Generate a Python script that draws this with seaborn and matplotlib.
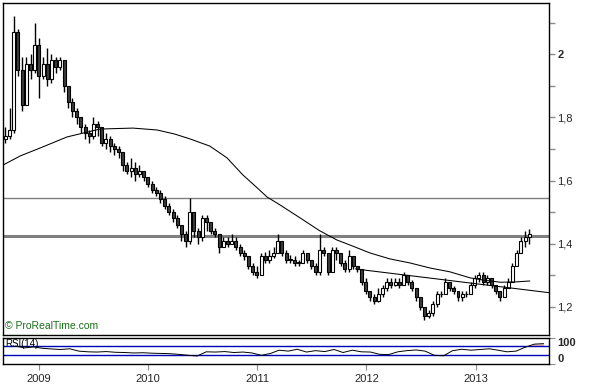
import numpy as np
import pandas as pd
import matplotlib
matplotlib.use("Agg")
import matplotlib.pyplot as plt
import seaborn as sns

# ---------------- data ----------------
bar_start = "2008-09-12"          # bi-weekly bars
close = [1.74, 1.76, 2.07, 1.95, 1.84, 1.97, 1.95, 2.03, 1.93, 1.97,
         1.92, 1.98, 1.96, 1.98, 1.90, 1.85, 1.82, 1.80, 1.77, 1.75,
         1.74, 1.78, 1.77, 1.72, 1.73, 1.71, 1.70, 1.69, 1.65, 1.63,
         1.64, 1.62, 1.63, 1.61, 1.59, 1.57, 1.56, 1.54, 1.52, 1.50,
         1.48, 1.46, 1.43, 1.41, 1.50, 1.44, 1.42, 1.48, 1.47, 1.44,
         1.43, 1.39, 1.41, 1.40, 1.41, 1.39, 1.37, 1.36, 1.33, 1.31,
         1.30, 1.36, 1.35, 1.36, 1.37, 1.41, 1.37, 1.35, 1.35, 1.34,
         1.34, 1.37, 1.35, 1.33, 1.31, 1.38, 1.37, 1.31, 1.38, 1.37,
         1.34, 1.32, 1.36, 1.33, 1.32, 1.28, 1.25, 1.23, 1.22, 1.24,
         1.26, 1.28, 1.27, 1.28, 1.27, 1.30, 1.28, 1.26, 1.23, 1.20,
         1.17, 1.18, 1.21, 1.24, 1.24, 1.28, 1.26, 1.25, 1.23, 1.24,
         1.24, 1.27, 1.29, 1.30, 1.28, 1.29, 1.27, 1.25, 1.23, 1.26,
         1.28, 1.33, 1.37, 1.41, 1.42, 1.43]
high = [1.77, 1.83, 2.12, 2.08, 1.99, 1.99, 2.00, 2.10, 2.05, 1.99,
        2.02, 2.00, 1.99, 1.99, 1.98, 1.90, 1.86, 1.83, 1.80, 1.78,
        1.76, 1.80, 1.79, 1.77, 1.75, 1.74, 1.72, 1.71, 1.69, 1.66,
        1.67, 1.66, 1.65, 1.63, 1.61, 1.60, 1.58, 1.57, 1.55, 1.53,
        1.51, 1.49, 1.46, 1.44, 1.545, 1.50, 1.45, 1.49, 1.49, 1.47,
        1.45, 1.43, 1.42, 1.42, 1.43, 1.42, 1.40, 1.38, 1.36, 1.34,
        1.33, 1.37, 1.375, 1.38, 1.39, 1.43, 1.40, 1.38, 1.365, 1.36,
        1.35, 1.38, 1.37, 1.35, 1.34, 1.43, 1.39, 1.36, 1.39, 1.39,
        1.37, 1.35, 1.38, 1.36, 1.33, 1.32, 1.29, 1.25, 1.24, 1.26,
        1.27, 1.29, 1.29, 1.29, 1.29, 1.31, 1.30, 1.285, 1.26, 1.23,
        1.20, 1.19, 1.22, 1.25, 1.25, 1.29, 1.28, 1.265, 1.25, 1.25,
        1.25, 1.28, 1.30, 1.31, 1.31, 1.30, 1.29, 1.27, 1.25, 1.27,
        1.29, 1.34, 1.38, 1.42, 1.44, 1.445]
low = [1.72, 1.73, 1.75, 1.93, 1.82, 1.84, 1.92, 1.94, 1.86, 1.92,
       1.90, 1.91, 1.94, 1.95, 1.88, 1.83, 1.80, 1.78, 1.75, 1.73,
       1.72, 1.73, 1.74, 1.71, 1.70, 1.69, 1.68, 1.67, 1.63, 1.62,
       1.61, 1.60, 1.61, 1.60, 1.58, 1.56, 1.55, 1.53, 1.51, 1.49,
       1.47, 1.45, 1.41, 1.39, 1.40, 1.42, 1.40, 1.41, 1.44, 1.43,
       1.42, 1.37, 1.39, 1.39, 1.40, 1.38, 1.36, 1.35, 1.32, 1.30,
       1.29, 1.30, 1.34, 1.34, 1.355, 1.37, 1.36, 1.34, 1.34, 1.33,
       1.33, 1.34, 1.34, 1.32, 1.30, 1.30, 1.36, 1.30, 1.31, 1.35,
       1.33, 1.31, 1.31, 1.32, 1.31, 1.27, 1.24, 1.22, 1.21, 1.215,
       1.23, 1.25, 1.26, 1.265, 1.26, 1.27, 1.27, 1.25, 1.22, 1.19,
       1.16, 1.165, 1.17, 1.20, 1.23, 1.24, 1.25, 1.24, 1.22, 1.22,
       1.23, 1.24, 1.26, 1.28, 1.27, 1.27, 1.26, 1.24, 1.22, 1.23,
       1.26, 1.28, 1.33, 1.37, 1.39, 1.40]
first_open = 1.73

ma_dates = ["2008-09-04", "2008-11-01", "2009-01-06", "2009-04-06", "2009-07-25",
            "2009-11-12", "2010-02-01", "2010-04-01", "2010-05-21", "2010-07-27",
            "2010-09-22", "2010-11-14", "2011-01-01", "2011-02-03", "2011-03-18",
            "2011-05-24", "2011-07-29", "2011-09-24", "2011-11-23", "2012-01-12",
            "2012-03-19", "2012-05-26", "2012-08-01", "2012-10-06", "2012-12-12",
            "2013-01-25", "2013-03-24", "2013-05-12", "2013-06-30"]
ma_values = [1.649, 1.678, 1.703, 1.738, 1.763, 1.766, 1.760, 1.747, 1.732, 1.709,
             1.672, 1.618, 1.577, 1.548, 1.523, 1.482, 1.441, 1.412, 1.390, 1.371,
             1.352, 1.339, 1.323, 1.311, 1.292, 1.285, 1.278, 1.279, 1.282]

trend_dates = ["2011-11-26", "2013-09-02"]
trend_values = [1.320, 1.245]

level_thin = 1.545
level_thick = 1.425

rsi_start = "2008-09-15"           # monthly RSI readings
rsi_values = [70, 62, 66, 60, 57, 55, 58, 48, 45, 44,
              46, 43, 42, 40, 41, 39, 38, 37, 34, 30,
              27, 45, 44, 46, 42, 44, 40, 30, 38, 52,
              48, 56, 44, 50, 46, 55, 42, 52, 45, 44,
              34, 33, 45, 50, 53, 48, 30, 28, 50, 56,
              52, 55, 58, 52, 45, 48, 65, 78, 80]
rsi_hi, rsi_lo = 70, 30

years = ["2009", "2010", "2011", "2012", "2013"]
price_ticks = [1.2, 1.4, 1.6, 1.8, 2.0]
price_labels = ["1,2", "1,4", "1,6", "1,8", "2"]
price_minor = [1.3, 1.5, 1.7, 1.9, 2.1]

# ---------------- figure ----------------
sns.set_style("white")
plt.rcParams["font.family"] = ["Liberation Sans", "DejaVu Sans"]

fig = plt.figure(figsize=(6, 3.84), dpi=100)
W, H = 600, 384
ax = fig.add_axes([3 / W, 1 - 335 / H, 546 / W, 332 / H])
ax2 = fig.add_axes([3 / W, 1 - 364 / H, 546 / W, 26 / H], sharex=ax)

df = pd.DataFrame({
    "date": pd.date_range(bar_start, periods=len(close), freq="14D"),
    "close": close, "high": high, "low": low,
})
df["open"] = [first_open] + close[:-1]
up = df["close"] >= df["open"]
body_lo = np.minimum(df["open"], df["close"])
body_h = np.maximum(np.abs(df["close"] - df["open"]), 0.002)

# horizontal levels
ax.axhline(level_thin, color="#7f7f7f", lw=1.0, zorder=1)
ax.axhline(level_thick, color="#7f7f7f", lw=2.2, zorder=1)

# candles
ax.vlines(df["date"], df["low"], df["high"], color="black", lw=1.0, zorder=2)
ax.bar(df["date"], body_h, bottom=body_lo, width=10,
       color=np.where(up, "white", "#3c3c3c"), edgecolor="black",
       linewidth=0.8, zorder=3)

# moving average and trendline
sns.lineplot(x=pd.to_datetime(ma_dates), y=ma_values, ax=ax, color="black",
             lw=0.75, zorder=4)
sns.lineplot(x=pd.to_datetime(trend_dates), y=trend_values, ax=ax,
             color="black", lw=0.75, zorder=4)

ax.set_xlim(pd.Timestamp("2008-09-04"), pd.Timestamp("2013-09-02"))
ax.set_ylim(1.111, 2.162)
ax.yaxis.tick_right()
ax.set_yticks(price_ticks)
ax.set_yticklabels(price_labels)
ax.set_yticks(price_minor, minor=True)
ax.tick_params(axis="y", which="both", direction="out", length=4,
               color="#8c8c8c", width=1, labelsize=8, pad=2, right=True, left=False)
for lab in ax.get_yticklabels():
    if lab.get_text() == "2":
        lab.set_fontweight("bold")
ax.tick_params(axis="x", bottom=False, labelbottom=False)
for s in ax.spines.values():
    s.set_color("black")
    s.set_linewidth(1)
ax.set_xlabel("")
ax.set_ylabel("")
ax.text(0.004, 0.012, "© ProRealTime.com", transform=ax.transAxes,
        fontsize=7.5, color="#1b6e1b", va="bottom", ha="left")

# RSI panel
rsi_dates = pd.date_range(rsi_start, periods=len(rsi_values), freq="MS") + pd.Timedelta(days=14)
rsi_arr = np.array(rsi_values, dtype=float)
ax2.fill_between(rsi_dates, rsi_hi, rsi_arr, where=rsi_arr > rsi_hi,
                 interpolate=True, color="#efb8b0", lw=0, zorder=1)
ax2.axhline(rsi_hi, color="#0000b4", lw=1.0, zorder=2)
ax2.axhline(rsi_lo, color="#0000b4", lw=1.0, zorder=2)
sns.lineplot(x=rsi_dates, y=rsi_values, ax=ax2, color="black", lw=0.7, zorder=3)
ax2.set_ylim(-7.4, 104.4)
ax2.yaxis.tick_right()
ax2.set_yticks([104.4, -7.4])
ax2.set_yticklabels(["100", "0"])
ax2.tick_params(axis="y", direction="out", length=4, color="#8c8c8c",
                labelsize=8, pad=2, right=True, left=False)
labs = ax2.get_yticklabels()
labs[0].set_va("top")
labs[1].set_va("bottom")
for lab in labs:
    lab.set_fontweight("bold")
ax2.set_xticks([pd.Timestamp(f"{y}-01-01") for y in years])
ax2.set_xticklabels(years)
ax2.tick_params(axis="x", direction="out", length=4, color="#8c8c8c",
                labelsize=8, pad=3, bottom=True)
for s in ax2.spines.values():
    s.set_color("black")
    s.set_linewidth(1)
ax2.set_xlabel("")
ax2.set_ylabel("")
ax2.text(0.004, 0.97, "RSI(14)", transform=ax2.transAxes, fontsize=7,
         va="top", ha="left", color="black")

fig.savefig("out.png", dpi=100)
